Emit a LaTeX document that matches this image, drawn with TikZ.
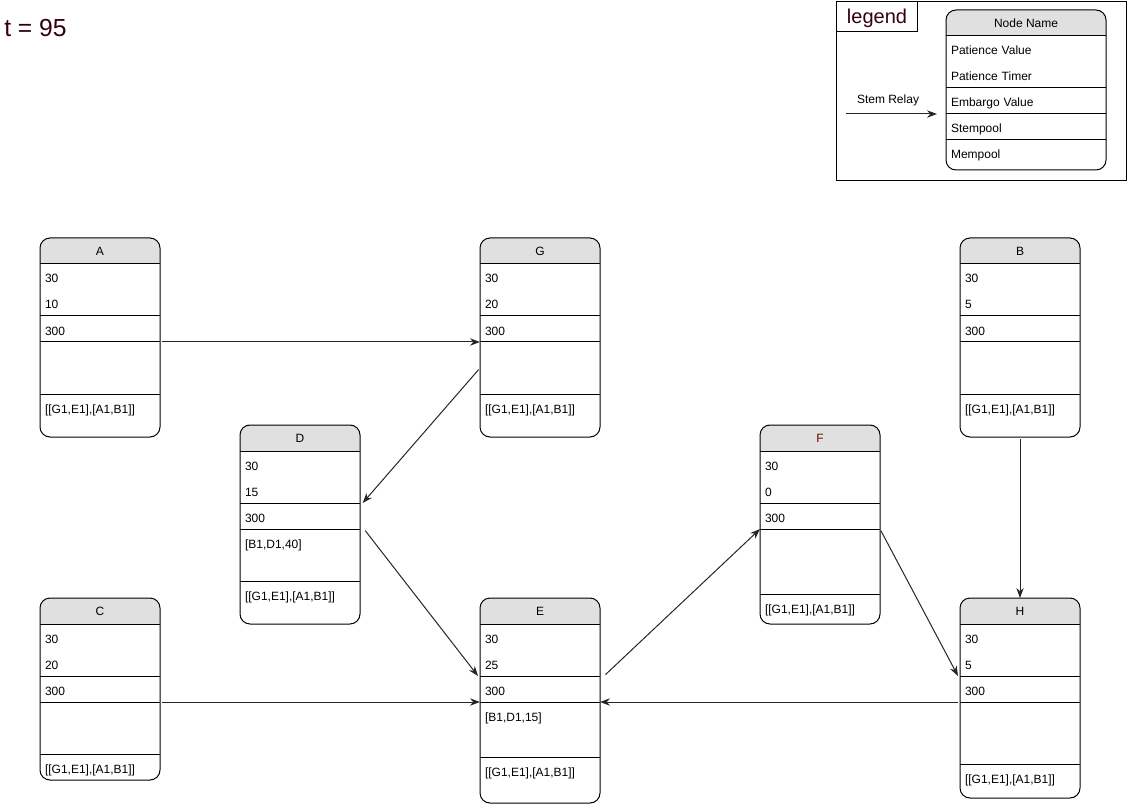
\documentclass[tikz,border=0pt]{standalone}
\usepackage{fontspec}
\setmainfont{Liberation Sans}
\usetikzlibrary{arrows.meta,positioning,backgrounds}
\usepackage{xcolor}

\definecolor{headgray}{RGB}{224,224,224}
\definecolor{darkmaroon}{RGB}{51,0,17}
\definecolor{titlered}{RGB}{110,10,0}
\newcommand{\nodefont}{\fontsize{9}{10.8}\selectfont}
\newcommand{\bigfont}{\fontsize{15}{18}\selectfont}
\newcommand{\memtext}{[[G1,E1],[A1,B1]]}
\newcommand{\boxwidth}{90pt}
\newcommand{\slotwidth}{82.5pt}

% one relay node: name, top left corner, title, patience value, patience timer,
% embargo value, stempool, stempool height, mempool height (heights in px)
\newcommand{\relaynode}[9]{%
  \node[titlebar, anchor=north west] (#1-head) at (#2) {#3};
  \node[slot=26, below=0pt of #1-head] (#1-pv) {#4};
  \node[slot=26, below=0pt of #1-pv] (#1-pt) {#5};
  \node[slot=26, below=0pt of #1-pt] (#1-ev) {#6};
  \node[slot=#8, below=0pt of #1-ev] (#1-stem) {#7};
  \node[slot=#9, below=0pt of #1-stem] (#1-mem) {\memtext};
  \begin{scope}[on background layer]
    \fill[headgray, rounded corners=7.5pt] (#1-head.north west) rectangle ([yshift=-9pt]#1-head.south east);
  \end{scope}
  \draw[boxframe] (#1-head.north west) rectangle (#1-mem.south east);
  \draw[rowline] (#1-head.south west) -- (#1-head.south east)
                 (#1-ev.north west) -- (#1-ev.north east)
                 (#1-stem.north west) -- (#1-stem.north east)
                 (#1-mem.north west) -- (#1-mem.north east);
}

\begin{document}
\begin{tikzpicture}[x=0.75pt, y=-0.75pt,
    titlebar/.style={rectangle, minimum width=\boxwidth, minimum height=19.5pt, inner sep=0pt, outer sep=0pt, font=\nodefont, text height=6.5pt, text depth=0pt},
    slot/.style={rectangle, fill=white, text width=\slotwidth, inner xsep=3.75pt, inner ysep=0pt, outer sep=0pt, align=left, font=\nodefont, text height=14.25pt, text depth={(#1-19)*0.75pt}},
    boxframe/.style={draw=black, line width=0.75pt, rounded corners=7.5pt},
    rowline/.style={draw=black, line width=0.75pt},
    arrow/.style={-{Stealth[length=7.5pt,width=5.5pt]}, draw=black!85, line width=0.75pt, shorten <=1.5pt}
]
\useasboundingbox (0,0) rectangle (1127,805);

% Clock
\node[anchor=west, inner sep=0pt, font=\fontsize{18.5}{22}\selectfont, text=darkmaroon] (clock) at (4,28) {t = 95};

% Top row
\relaynode{A}{40,238}{A}{30}{10}{300}{}{52}{43}
\relaynode{G}{480,238}{G}{30}{20}{300}{}{52}{43}
\relaynode{B}{960,238}{B}{30}{5}{300}{}{52}{43}

% Middle row
\relaynode{D}{240,425}{D}{30}{15}{300}{[B1,D1,40]}{52}{43}
\relaynode{F}{760,425}{\textcolor{titlered}{F}}{30}{0}{300}{}{65}{30}

% Bottom row
\relaynode{C}{40,598}{C}{30}{20}{300}{}{52}{26}
\relaynode{E}{480,598}{E}{30}{25}{300}{[B1,D1,15]}{55}{46}
\relaynode{H}{960,598}{H}{30}{5}{300}{}{62}{34}

% Stem relays
\draw[arrow] (A-stem.north east) -- (G-stem.north west);
\draw[arrow] (G-stem.west) -- ([xshift=2pt]D-ev.north east);
\draw[arrow] ([xshift=3pt]D-stem.north east) -- ([xshift=-1.5pt]E-ev.north west);
\draw[arrow] (C-stem.north east) -- (E-stem.north west);
\draw[arrow] ([xshift=3pt]E-ev.north east) -- (F-stem.north west);
\draw[arrow] (F-stem.north east) -- ([xshift=-1.5pt]H-ev.north west);
\draw[arrow] (B-mem.south) -- (H-head.north);
\draw[arrow] (H-stem.north west) -- (E-stem.north east);

% Legend
\node[draw, line width=0.75pt, anchor=north west, minimum width=217.5pt, minimum height=134.25pt, inner sep=0pt] (legendframe) at (836,1) {};
\node[draw, line width=0.75pt, anchor=north west, minimum width=60.75pt, minimum height=22.5pt, inner sep=0pt, font=\bigfont, text=darkmaroon, text depth=0pt] (legendtag) at (836,1) {legend};
\renewcommand{\memtext}{Mempool}
\renewcommand{\boxwidth}{120pt}
\renewcommand{\slotwidth}{112.5pt}
\relaynode{lg}{946,10}{Node Name}{Patience Value}{Patience Timer}{Embargo Value}{Stempool}{26}{30}
\coordinate (relayfrom) at (846,114);
\coordinate (relayto) at (937,114);
\draw[arrow, shorten <=0pt] (relayfrom) -- (relayto);
\node[font=\nodefont] (relaylabel) at (888,100) {Stem Relay};

\end{tikzpicture}
\end{document}
